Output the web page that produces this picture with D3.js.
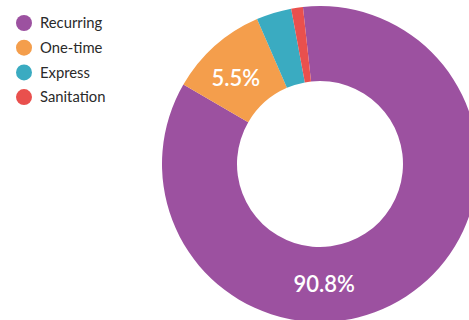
<!DOCTYPE html>
<html lang="en">
<head>
	<meta charset="utf-8">
	<title>Orders</title>
	<script src="https://d3js.org/d3.v7.min.js"></script>
	<style>
		body { margin: 0; background: #fff; }
		text { font-family: Lato, "Open Sans", sans-serif; }
	</style>
</head>
<body>
	<script>

	var categories = ["Recurring", "One-time", "Express", "Sanitation"];
	var shares = [85.1, 10.1, 3.6, 1.2];
	var labelText = ["90.8%", "5.5%", "", ""];
	var colors = ["#9c51a0", "#f49e4c", "#3aabc1", "#e9504d"];

	var width = 469,
		height = 320;

	var cx = 320, cy = 164,
		outerR = 158, innerR = 83;

	var svg = d3.select("body")
		.append("svg")
		.attr("width", width)
		.attr("height", height);

	var start = -6.2 * Math.PI / 180;

	var pie = d3.pie()
		.sort(null)
		.startAngle(start)
		.endAngle(start + 2 * Math.PI)
		.value(function(d) { return d; });

	var arc = d3.arc()
		.innerRadius(innerR)
		.outerRadius(outerR);

	var color = d3.scaleOrdinal()
		.domain(categories)
		.range(colors);

	var g = svg.append("g")
		.attr("transform", "translate(" + cx + "," + cy + ")");

	var arcs = pie(shares);

	g.selectAll("path")
		.data(arcs)
		.enter().append("path")
		.attr("d", arc)
		.attr("fill", function(d, i) { return color(categories[i]); });

	// labels sit a bit off the centroid in the original
	var labelAngle = [178, -44.6]; // degrees clockwise from top
	var labelR = 120;

	g.selectAll("text.val")
		.data(arcs.filter(function(d, i) { return labelText[i] !== ""; }))
		.enter().append("text")
		.attr("class", "val")
		.attr("x", function(d, i) { return labelR * Math.sin(labelAngle[i] * Math.PI / 180); })
		.attr("y", function(d, i) { return -labelR * Math.cos(labelAngle[i] * Math.PI / 180); })
		.attr("dy", "0.35em")
		.attr("text-anchor", "middle")
		.attr("fill", "#fff")
		.style("font-size", "22px")
		.style("font-weight", "600")
		.text(function(d) { return labelText[d.index]; });

	// legend
	var legend = svg.append("g")
		.attr("transform", "translate(24,23)");

	var row = legend.selectAll("g")
		.data(categories)
		.enter().append("g")
		.attr("transform", function(d, i) { return "translate(0," + (i * 24.7) + ")"; });

	row.append("circle")
		.attr("r", 8)
		.attr("fill", function(d) { return color(d); });

	row.append("text")
		.attr("x", 16)
		.attr("dy", "0.35em")
		.attr("fill", "#2a2a2a")
		.style("font-size", "14.8px")
		.text(function(d) { return d; });

	</script>
</body>
</html>
